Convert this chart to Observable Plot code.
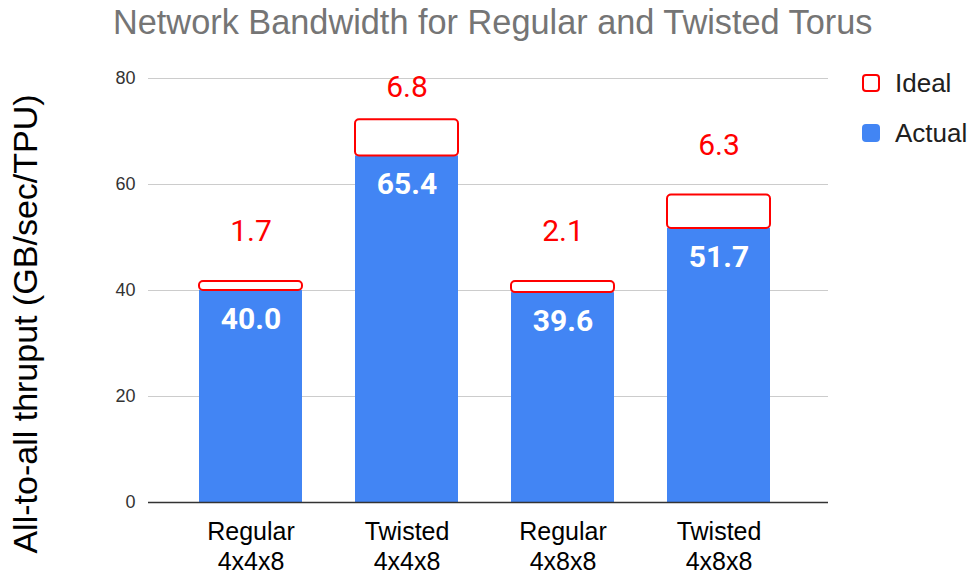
<!DOCTYPE html>
<html>
<head>
<meta charset="utf-8">
<script src="https://cdn.jsdelivr.net/npm/d3@7"></script>
<script src="https://cdn.jsdelivr.net/npm/@observablehq/plot@0.6"></script>
<style>
  html, body { margin: 0; padding: 0; background: #fff; }
  #chart { position: relative; width: 975px; height: 577px; overflow: hidden; font-family: "Liberation Sans", Arial, sans-serif; }
  #chart svg { position: absolute; left: 0; top: 0; overflow: visible; }
  .title { position: absolute; left: 113px; top: 5px; font-size: 34.3px; line-height: 1; color: #757575; white-space: nowrap; }
  .ylabel { position: absolute; left: 25px; top: 324px; font-size: 34px; line-height: 1; color: #000; white-space: nowrap;
            transform: translate(-50%, -50%) rotate(-90deg); }
  .legend-swatch { position: absolute; width: 18px; height: 18px; box-sizing: border-box; border-radius: 4px; }
  .legend-text { position: absolute; font-size: 26px; line-height: 1; color: #202020; white-space: nowrap; }
</style>
</head>
<body>
<div id="chart">
  <div class="title">Network Bandwidth for Regular and Twisted Torus</div>
  <div class="ylabel">All-to-all thruput (GB/sec/TPU)</div>
  <div class="legend-swatch" style="left:862px;top:74px;border:2px solid #ff0000;background:#fff;"></div>
  <div class="legend-text" style="left:895px;top:70px;">Ideal</div>
  <div class="legend-swatch" style="left:862px;top:124px;background:#4285f4;"></div>
  <div class="legend-text" style="left:895px;top:120px;">Actual</div>
</div>
<script>
// Torus configurations
const torusKind = ["Regular", "Twisted", "Regular", "Twisted"];
const torusShape = ["4x4x8", "4x4x8", "4x8x8", "4x8x8"];
// Measured all-to-all throughput (GB/sec/TPU)
const actual = [40.0, 65.4, 39.6, 51.7];
// Remaining headroom up to the ideal throughput
const gap = [1.7, 6.8, 2.1, 6.3];
// Value axis ticks
const yTicks = [0, 20, 40, 60, 80];

const categories = torusKind.map((k, i) => `${k}\n${torusShape[i]}`);
const rows = categories.map((c, i) => ({config: c, actual: actual[i], gap: gap[i], ideal: actual[i] + gap[i]}));

const RED = "#ff0000";
const BLUE = "#4285f4";

const plot = Plot.plot({
  width: 975,
  height: 577,
  marginTop: 78,
  marginBottom: 75,
  marginLeft: 148,
  marginRight: 147,
  style: {fontFamily: "'Liberation Sans', Arial, sans-serif", background: "transparent", overflow: "visible"},
  x: {domain: categories, padding: 0.34, range: [144, 824], label: null},
  y: {domain: [0, 80], ticks: yTicks, label: null},
  marks: [
    Plot.ruleY(yTicks.filter(t => t !== 0), {stroke: "#cccccc", strokeWidth: 1}),
    Plot.axisY({ticks: yTicks, tickSize: 0, tickPadding: 13, fontSize: 18, fill: "#333", label: null}),
    Plot.axisX({tickSize: 0, tickPadding: 17, fontSize: 25, lineHeight: 1.17, fill: "#000", label: null}),
    // actual throughput
    Plot.barY(rows, {x: "config", y1: 0, y2: "actual", fill: BLUE}),
    // headroom to the ideal throughput
    Plot.barY(rows, {x: "config", y1: "actual", y2: "ideal", fill: "#fff", stroke: RED, strokeWidth: 2, rx: 4}),
    Plot.ruleY([0], {stroke: "#333", strokeWidth: 1.5}),
    // headroom labels above each bar, kept inside the plot area
    Plot.text(rows, {x: "config", y: d => Math.min(d.ideal + 9.4, 78.4), text: d => d.gap.toFixed(1),
      fill: RED, fontSize: 30, fontFamily: "Roboto, sans-serif"}),
    // actual values inside the blue bars
    Plot.text(rows, {x: "config", y: "actual", dy: 29, text: d => d.actual.toFixed(1),
      fill: "#fff", fontSize: 30, fontWeight: "bold", fontFamily: "Roboto, sans-serif"})
  ]
});
document.getElementById("chart").prepend(plot);
</script>
</body>
</html>
